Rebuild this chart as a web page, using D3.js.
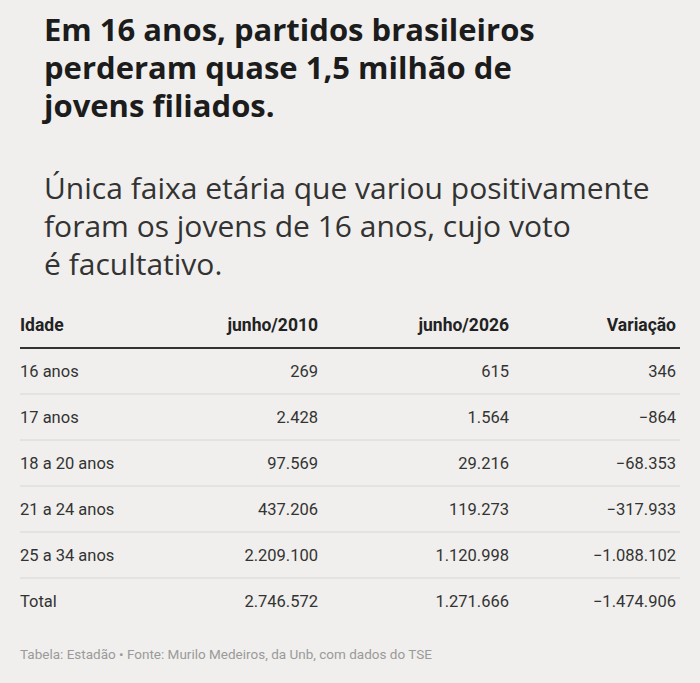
<!DOCTYPE html>
<html><head><meta charset="utf-8">
<script src="https://cdn.jsdelivr.net/npm/d3@7"></script>
<style>body{margin:0;background:#f0efed;}</style>
</head><body>
<script>
const titleLines = ["Em 16 anos, partidos brasileiros", "perderam quase 1,5 milhão de", "jovens filiados."];
const subLines = ["Única faixa etária que variou positivamente", "foram os jovens de 16 anos, cujo voto", "é facultativo."];
const headers = ["Idade", "junho/2010", "junho/2026", "Variação"];
const ages = ["16 anos", "17 anos", "18 a 20 anos", "21 a 24 anos", "25 a 34 anos", "Total"];
const v2010 = ["269", "2.428", "97.569", "437.206", "2.209.100", "2.746.572"];
const v2026 = ["615", "1.564", "29.216", "119.273", "1.120.998", "1.271.666"];
const varia = ["346", "-864", "-68.353", "-317.933", "-1.088.102", "-1.474.906"];
const footer = "Tabela: Estadão • Fonte: Murilo Medeiros, da Unb, com dados do TSE";

const svg = d3.select("body").append("svg").attr("width", 700).attr("height", 683)
  .style("font-family", "Roboto, sans-serif");
svg.append("rect").attr("width", 700).attr("height", 683).attr("fill", "#f0efed");

svg.selectAll("text.t").data(titleLines).join("text")
  .attr("x", 44).attr("y", (d, i) => 41 + i * 38)
  .attr("font-family", "'Open Sans', sans-serif").attr("font-weight", 700)
  .attr("font-size", 31).attr("fill", "#1c1c1c").text(d => d);

svg.selectAll("text.s").data(subLines).join("text")
  .attr("x", 44).attr("y", (d, i) => 199 + i * 38)
  .attr("font-family", "'Open Sans', sans-serif")
  .attr("font-size", 30).attr("fill", "#333").text(d => d);

const colX = [20, 318, 509, 676];
const y = d3.scalePoint().domain(ages).range([371, 601]);

svg.selectAll("text.h").data(headers).join("text")
  .attr("x", (d, i) => colX[i]).attr("y", 331)
  .attr("text-anchor", (d, i) => i ? "end" : "start")
  .attr("font-weight", 700).attr("font-size", 17.5).attr("fill", "#222").text(d => d);
svg.append("line").attr("x1", 20).attr("x2", 680).attr("y1", 348).attr("y2", 348)
  .attr("stroke", "#333").attr("stroke-width", 2);

svg.selectAll("line.sep").data(ages.slice(1)).join("line")
  .attr("x1", 20).attr("x2", 680)
  .attr("y1", d => y(d) - 23).attr("y2", d => y(d) - 23)
  .attr("stroke", "#d8d6d3").attr("stroke-width", 1);

const cols = [ages, v2010, v2026, varia];
cols.forEach((col, c) => {
  svg.selectAll("text.c" + c).data(col).join("text")
    .attr("x", colX[c]).attr("y", (d, i) => y(ages[i]) + 6)
    .attr("text-anchor", c ? "end" : "start")
    .attr("font-size", 16.5).attr("fill", "#333").text(d => d.replace("-", "−"));
});

svg.append("text").attr("x", 20).attr("y", 659).attr("font-size", 13.5)
  .attr("fill", "#9a9a9a").text(footer);
</script>
</body></html>
